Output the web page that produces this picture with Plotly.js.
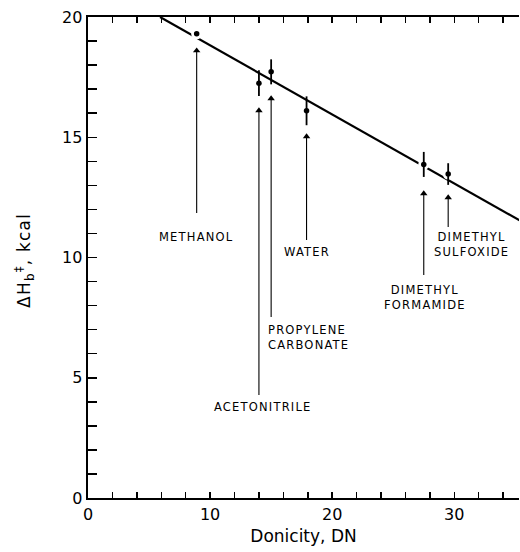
<!DOCTYPE html>
<html>
<head>
<meta charset="utf-8">
<script src="https://cdn.plot.ly/plotly-3.0.1.min.js"></script>
<style>
html,body{margin:0;padding:0;background:#fff;}
#chart{width:520px;height:552px;}
.annotation-text{letter-spacing:1.2px;}
</style>
</head>
<body>
<div id="chart"></div>
<script>
// Solvent data
const solvents = ['METHANOL', 'ACETONITRILE', 'PROPYLENE<br>CARBONATE', 'WATER', 'DIMETHYL<br>FORMAMIDE', 'DIMETHYL<br>SULFOXIDE'];
const donicity = [8.9, 14.0, 15.0, 17.9, 27.5, 29.5];
const deltaH = [19.3, 17.25, 17.72, 16.1, 13.87, 13.47];
const deltaHErr = [0, 0.54, 0.52, 0.6, 0.52, 0.45];

// Fitted straight line (end points)
const fitDN = [5.9, 35.5];
const fitH = [20.0, 11.5];

// Label anchors and arrow extents (data units)
const labelDN = [8.85, 14.37, 14.58, 17.94, 27.6, 31.45];
const labelH = [10.85, 3.78, 6.67, 10.23, 8.34, 10.52];
const labelAnchor = ['center', 'center', 'left', 'center', 'center', 'center'];
const arrowHeadH = [18.75, 16.26, 16.76, 15.18, 12.81, 12.64];
const arrowTailH = [11.85, 4.28, 7.53, 10.73, 9.27, 11.27];

const xTicks = [0, 10, 20, 30];
const yTicks = [0, 5, 10, 15, 20];
const yTitle = 'ΔH<sub>b</sub><sup>‡</sup>, kcal';
const xTitle = 'Donicity, DN';

const FONT = 'DejaVu Sans, sans-serif';

// arrow shafts as broken line segments
const shaftX = [], shaftY = [];
for (let i = 0; i < donicity.length; i++) {
  shaftX.push(donicity[i], donicity[i], null);
  shaftY.push(arrowTailH[i], arrowHeadH[i] - 0.2, null);
}
const headY = arrowHeadH.map(v => v - 0.15);

const traces = [
  {x: fitDN, y: fitH, mode: 'lines', type: 'scatter',
   line: {color: '#000', width: 2.2}, hoverinfo: 'skip', showlegend: false},
  {x: donicity, y: deltaH, mode: 'markers', type: 'scatter',
   marker: {color: '#fff', size: 11}, hoverinfo: 'skip', showlegend: false},
  {x: donicity, y: deltaH, mode: 'markers', type: 'scatter',
   marker: {color: '#000', size: 5.5},
   error_y: {type: 'data', array: deltaHErr, visible: true, width: 0, thickness: 1.8, color: '#000'},
   showlegend: false},
  {x: shaftX, y: shaftY, mode: 'lines', type: 'scatter', connectgaps: false,
   line: {color: '#000', width: 1.1}, hoverinfo: 'skip', showlegend: false},
  {x: donicity, y: headY, mode: 'markers', type: 'scatter',
   marker: {color: '#000', symbol: 'triangle-up', size: 6.5, line: {width: 0}},
   hoverinfo: 'skip', showlegend: false}
];

const annotations = [];
for (let i = 0; i < solvents.length; i++) {
  annotations.push({
    x: labelDN[i], y: labelH[i], xref: 'x', yref: 'y',
    text: solvents[i], showarrow: false,
    xanchor: labelAnchor[i], yanchor: 'middle', align: labelAnchor[i],
    font: {family: FONT, size: 11.5, color: '#000'}
  });
}
// y-axis title placed as rotated annotation
annotations.push({
  x: -0.146, y: 0.493, xref: 'paper', yref: 'paper',
  text: yTitle, textangle: -90, showarrow: false,
  xanchor: 'center', yanchor: 'middle',
  font: {family: FONT, size: 17, color: '#000'}
});

const layout = {
  width: 520, height: 552,
  margin: {l: 88, r: 1, t: 17, b: 54},
  paper_bgcolor: '#fff', plot_bgcolor: '#fff',
  showlegend: false,
  font: {family: FONT, color: '#000'},
  xaxis: {
    range: [0, 35.3], tickvals: xTicks, ticktext: xTicks.map(String),
    ticks: 'inside', ticklen: 6, tickwidth: 1.5, tickcolor: '#000',
    minor: {dtick: 2, tick0: 0, ticks: 'inside', ticklen: 6, tickwidth: 1.5, tickcolor: '#000'},
    showline: true, linewidth: 2.4, linecolor: '#000', mirror: 'ticks',
    showgrid: false, zeroline: false,
    tickfont: {family: FONT, size: 16, color: '#000'},
    title: {text: xTitle, font: {family: FONT, size: 17, color: '#000'}, standoff: 8}
  },
  yaxis: {
    range: [0, 20], tickvals: yTicks, ticktext: yTicks.map(String),
    ticks: 'inside', ticklen: 9, tickwidth: 1.5, tickcolor: '#000',
    minor: {dtick: 1, tick0: 0, ticks: 'inside', ticklen: 9, tickwidth: 1.5, tickcolor: '#000'},
    showline: true, linewidth: 2.4, linecolor: '#000',
    showgrid: false, zeroline: false,
    tickfont: {family: FONT, size: 16, color: '#000'}
  },
  annotations: annotations
};

Plotly.newPlot('chart', traces, layout, {displayModeBar: false, staticPlot: true});
</script>
</body>
</html>
